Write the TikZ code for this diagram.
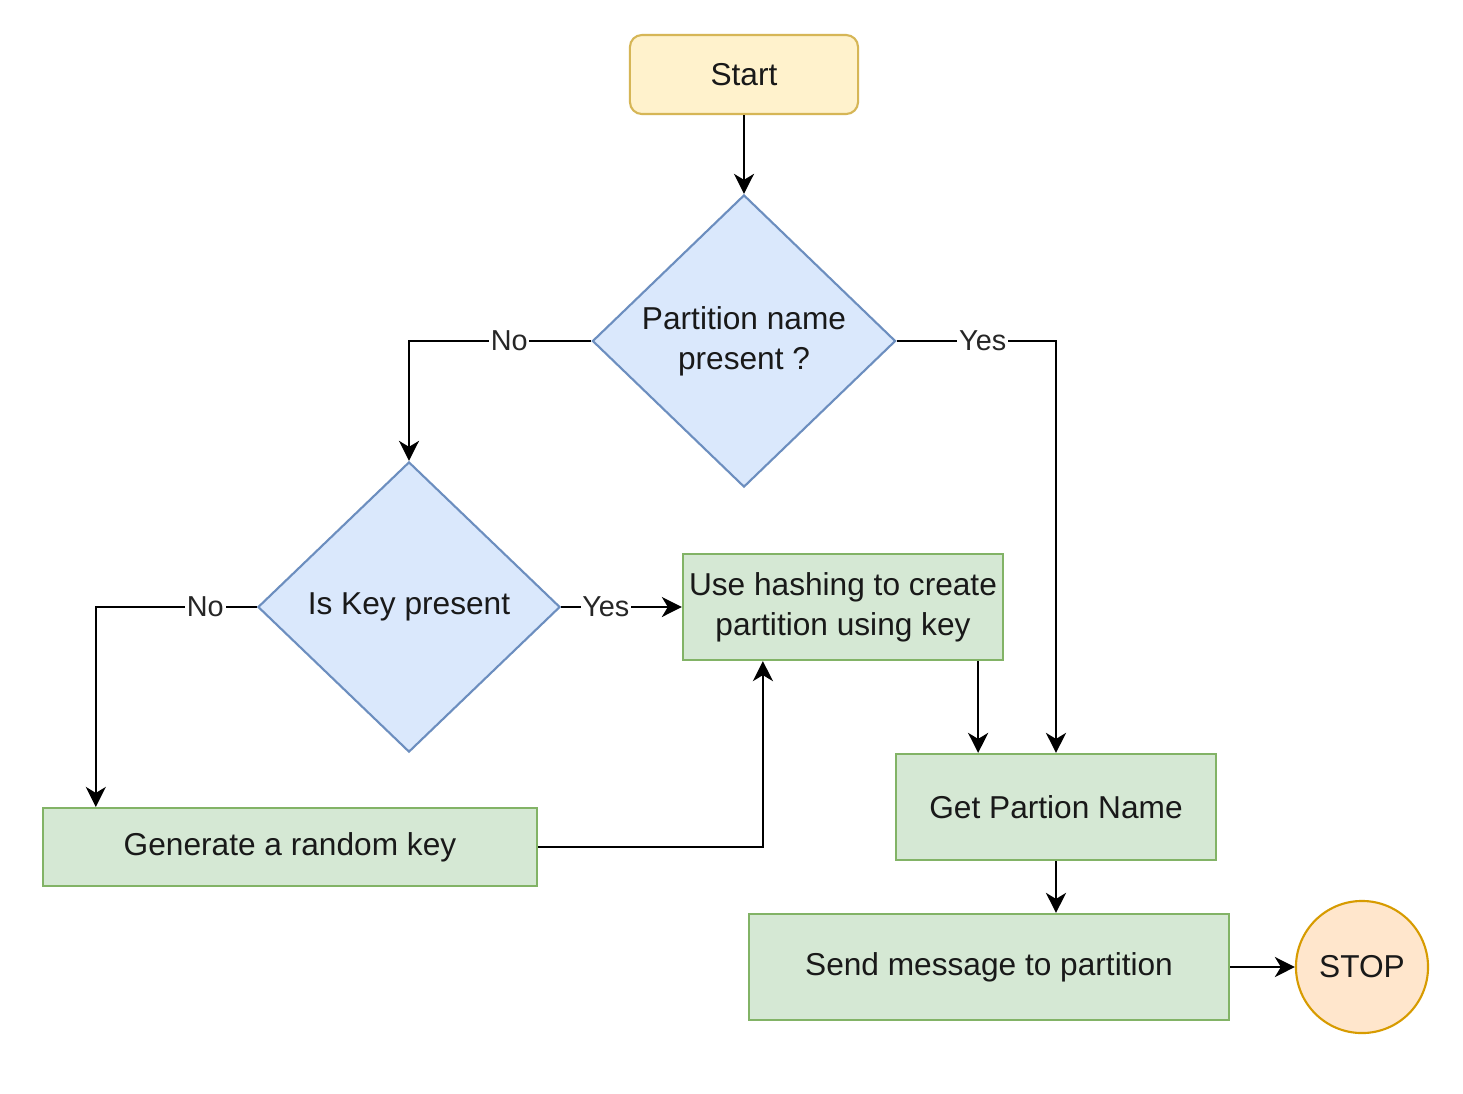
\documentclass[tikz,border=0pt]{standalone}
\usepackage{fontspec}
\setmainfont{Liberation Sans}
\usetikzlibrary{shapes.geometric,arrows.meta,calc}
\definecolor{yfill}{HTML}{FFF2CC}
\definecolor{ydraw}{HTML}{D6B656}
\definecolor{bfill}{HTML}{DAE8FC}
\definecolor{bdraw}{HTML}{6C8EBF}
\definecolor{gfill}{HTML}{D5E8D4}
\definecolor{gdraw}{HTML}{82B366}
\definecolor{ofill}{HTML}{FFE6CC}
\definecolor{odraw}{HTML}{D79B00}
\tikzset{
  base/.style={font=\fontsize{9}{11.4}\selectfont, text=black!90, align=center, inner sep=0pt, line width=0.6pt},
  startbox/.style={base, rectangle, rounded corners=0.12cm, fill=yfill, draw=ydraw, minimum width=2.28cm, minimum height=0.79cm},
  decision/.style={base, diamond, fill=bfill, draw=bdraw},
  procbox/.style={base, rectangle, fill=gfill, draw=gdraw},
  stopnode/.style={base, circle, fill=ofill, draw=odraw, minimum size=1.32cm},
  conn/.style={line width=0.7pt, -{Stealth[length=0.2cm, width=0.2cm, inset=0.06cm]}},
  lbl/.style={font=\fontsize{8.2}{10}\selectfont, text=black!85, fill=white, inner sep=0.5pt}
}
\begin{document}
\begin{tikzpicture}[x=0.01cm, y=-0.01cm]
\useasboundingbox[fill=white] (0,0) rectangle (1463,1093);
\node[startbox] (start) at (744,74.5) {Start};
\node[decision, minimum width=3.03cm, minimum height=2.92cm] (d1) at (744,341) {Partition name\\present ?};
\node[decision, minimum width=3.02cm, minimum height=2.90cm] (d2) at (409,607) {Is Key present};
\node[procbox, minimum width=3.20cm, minimum height=1.06cm] (hash) at (843,607) {Use hashing to create\\partition using key};
\node[procbox, minimum width=3.20cm, minimum height=1.06cm] (gp) at (1056,807) {Get Partion Name};
\node[procbox, minimum width=4.94cm, minimum height=0.78cm] (gen) at (290,847) {Generate a random key};
\node[procbox, minimum width=4.80cm, minimum height=1.06cm] (send) at (989,967) {Send message to partition};
\node[stopnode] (stop) at (1362,967) {STOP};

\draw[conn] (start.south) -- (d1.north);
\draw[conn] (d1.west) -| node[lbl, pos=0.225] {No} (d2.north);
\draw[conn] (d1.east) -| node[lbl, pos=0.27] {Yes} (gp.north);
\draw[conn] (d2.east) -- node[lbl, pos=0.37] {Yes} (hash.west);
\draw[conn] (d2.west) -| node[lbl, pos=0.16] {No} ([xshift=0.54cm]gen.north west);
\draw[conn] (gen.east) -| ([xshift=0.81cm]hash.south west);
\draw[conn] ([xshift=-0.26cm]hash.south east) -- ([xshift=-0.26cm]hash.south east |- gp.north);
\draw[conn] (gp.south) -- (gp.south |- send.north);
\draw[conn] (send.east) -- (stop.west);
\end{tikzpicture}
\end{document}
